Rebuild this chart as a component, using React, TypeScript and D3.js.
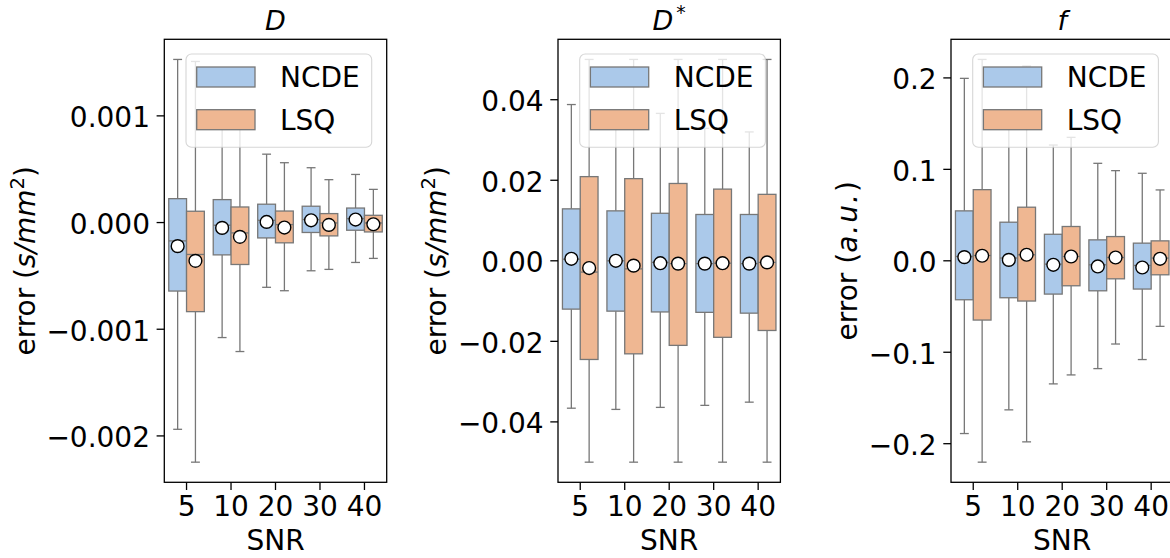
import React from 'react';
import * as d3 from 'd3';

// ---------- data ----------
const snr = ['5', '10', '20', '30', '40'];
const seriesNames = ['NCDE', 'LSQ'];
const seriesFills = ['#abc9ea', '#efb792'];

// Panel D  (s/mm^2)
const dNcdeLo = [-0.001938, -0.001078, -0.000607, -0.000452, -0.000374];
const dNcdeQ1 = [-0.000642, -0.000303, -0.000144, -0.000093, -0.000072];
const dNcdeMed = [-0.000172, -0.000025, 0.000021, 0.000028, 0.000037];
const dNcdeQ3 = [0.000224, 0.000215, 0.000172, 0.000153, 0.000136];
const dNcdeHi = [0.001529, 0.00096, 0.000641, 0.000514, 0.000451];
const dNcdeMean = [-0.000221, -0.00005, 0.000006, 0.000021, 0.000028];
const dLsqLo = [-0.002246, -0.001209, -0.000639, -0.000439, -0.000336];
const dLsqQ1 = [-0.000835, -0.000393, -0.00019, -0.000125, -0.000088];
const dLsqMed = [-0.000299, -0.000097, -0.000019, -0.000004, -0.000004];
const dLsqQ3 = [0.000106, 0.000146, 0.000108, 0.000084, 0.000068];
const dLsqHi = [0.00151, 0.00094, 0.000561, 0.000402, 0.000311];
const dLsqMean = [-0.000359, -0.000134, -0.000047, -0.000022, -0.000016];
const dTicks = [-0.002, -0.001, 0, 0.001];

// Panel D*  (s/mm^2)
const dsNcdeLo = [-0.0366, -0.0369, -0.0364, -0.0359, -0.0351];
const dsNcdeQ1 = [-0.012, -0.0125, -0.0127, -0.0128, -0.013];
const dsNcdeMed = [0.0004, 0.0, -0.0004, -0.0007, -0.0007];
const dsNcdeQ3 = [0.0129, 0.0124, 0.0118, 0.0115, 0.0115];
const dsNcdeHi = [0.0388, 0.0374, 0.0366, 0.0329, 0.032];
const dsNcdeMean = [0.0005, 0.0, -0.0006, -0.0007, -0.0007];
const dsLsqLo = [-0.05, -0.05, -0.05, -0.05, -0.05];
const dsLsqQ1 = [-0.0245, -0.0231, -0.021, -0.019, -0.0173];
const dsLsqMed = [-0.0028, -0.002, -0.0007, -0.0006, -0.0004];
const dsLsqQ3 = [0.0209, 0.0204, 0.0192, 0.0178, 0.0165];
const dsLsqHi = [0.05, 0.05, 0.05, 0.05, 0.05];
const dsLsqMean = [-0.0018, -0.0012, -0.0007, -0.0006, -0.0004];
const dsTicks = [-0.04, -0.02, 0, 0.02, 0.04];

// Panel f  (a.u.)
const fNcdeLo = [-0.1889, -0.163, -0.1346, -0.1179, -0.108];
const fNcdeQ1 = [-0.0426, -0.0404, -0.0364, -0.0328, -0.0309];
const fNcdeMed = [0.0047, 0.003, -0.0036, -0.0044, -0.0051];
const fNcdeQ3 = [0.0546, 0.0422, 0.029, 0.0229, 0.0193];
const fNcdeHi = [0.1995, 0.165, 0.1266, 0.1066, 0.0957];
const fNcdeMean = [0.004, 0.001, -0.0044, -0.0062, -0.0073];
const fLsqLo = [-0.2202, -0.198, -0.1248, -0.091, -0.0717];
const fLsqQ1 = [-0.0648, -0.044, -0.0273, -0.0197, -0.0153];
const fLsqMed = [0.0058, 0.0066, 0.0047, 0.0036, 0.003];
const fLsqQ3 = [0.0778, 0.0586, 0.0375, 0.0265, 0.0218];
const fLsqHi = [0.2202, 0.2129, 0.135, 0.0986, 0.0775];
const fLsqMean = [0.0055, 0.0066, 0.0047, 0.0036, 0.0022];
const fTicks = [-0.2, -0.1, 0, 0.1, 0.2];

// ---------- layout ----------
const W = 1170;
const H = 558;
const FONT = "'DejaVu Sans', 'Liberation Sans', sans-serif";
const FS = 28;
const TITLE_FS = 27;
const GRAY = '#777777';
const panelLefts = [164.3, 558, 951];
const panelTop = 39.3;
const panelW = 222.4;
const panelH = 443;

type Stats = { lo: number[]; q1: number[]; med: number[]; q3: number[]; hi: number[]; mean: number[] };
const mk = (lo: number[], q1: number[], med: number[], q3: number[], hi: number[], mean: number[]): Stats => ({ lo, q1, med, q3, hi, mean });

const panels = [
  {
    title: 'D', sup: '', ticks: dTicks, decimals: 3, unit: 'smm',
    series: [mk(dNcdeLo, dNcdeQ1, dNcdeMed, dNcdeQ3, dNcdeHi, dNcdeMean), mk(dLsqLo, dLsqQ1, dLsqMed, dLsqQ3, dLsqHi, dLsqMean)],
  },
  {
    title: 'D', sup: '*', ticks: dsTicks, decimals: 2, unit: 'smm',
    series: [mk(dsNcdeLo, dsNcdeQ1, dsNcdeMed, dsNcdeQ3, dsNcdeHi, dsNcdeMean), mk(dsLsqLo, dsLsqQ1, dsLsqMed, dsLsqQ3, dsLsqHi, dsLsqMean)],
  },
  {
    title: 'f', sup: '', ticks: fTicks, decimals: 1, unit: 'au',
    series: [mk(fNcdeLo, fNcdeQ1, fNcdeMed, fNcdeQ3, fNcdeHi, fNcdeMean), mk(fLsqLo, fLsqQ1, fLsqMed, fLsqQ3, fLsqHi, fLsqMean)],
  },
];

let ctx: CanvasRenderingContext2D | null = null;
function measure(t: string, size: number): number {
  if (!ctx) ctx = document.createElement('canvas').getContext('2d');
  if (!ctx) return t.length * size * 0.6;
  ctx.font = `${size}px 'DejaVu Sans'`;
  return ctx.measureText(t).width;
}

function Panel({ p, left }: { p: typeof panels[number]; left: number }) {
  const top = panelTop;
  const bottom = panelTop + panelH;
  const right = left + panelW;
  const all = p.series.flatMap((s) => [...s.lo, ...s.hi]);
  const mn = d3.min(all) as number;
  const mx = d3.max(all) as number;
  const pad = (mx - mn) * 0.05;
  const y = d3.scaleLinear().domain([mn - pad, mx + pad]).range([bottom, top]);
  const x = d3.scaleBand<string>().domain(snr).range([left, right]);
  const bw = x.bandwidth();
  const inner = d3.scaleBand<string>().domain(seriesNames).range([0, bw * 0.8]);
  const boxW = inner.bandwidth();
  const fmt = d3.format(`.${p.decimals}f`);
  const tickLabels = p.ticks.map((t) => fmt(t));
  const maxW = d3.max(tickLabels, (t) => measure(t, FS)) as number;
  const ylabX = left - 14.3 - maxW - 11.4;
  const ylabY = (top + bottom) / 2;
  const cx = (left + right) / 2;

  // legend geometry
  const lgL = left + 21.7;
  const lgR = right - 15;
  const lgT = top + 14.7;
  const lgB = top + 108;

  return (
    <g>
      {/* boxes */}
      {p.series.map((s, si) => (
        <g key={si}>
          {snr.map((c, i) => {
            const x0 = (x(c) as number) + bw * 0.1 + (inner(seriesNames[si]) as number);
            const xm = x0 + boxW / 2;
            const capW = boxW / 2;
            return (
              <g key={c}>
                <line x1={xm} x2={xm} y1={y(s.q3[i])} y2={y(s.hi[i])} stroke={GRAY} strokeWidth={1.3} />
                <line x1={xm} x2={xm} y1={y(s.q1[i])} y2={y(s.lo[i])} stroke={GRAY} strokeWidth={1.3} />
                <line x1={xm - capW / 2} x2={xm + capW / 2} y1={y(s.hi[i])} y2={y(s.hi[i])} stroke={GRAY} strokeWidth={1.3} />
                <line x1={xm - capW / 2} x2={xm + capW / 2} y1={y(s.lo[i])} y2={y(s.lo[i])} stroke={GRAY} strokeWidth={1.3} />
                <rect x={x0} width={boxW} y={y(s.q3[i])} height={y(s.q1[i]) - y(s.q3[i])} fill={seriesFills[si]} stroke={GRAY} strokeWidth={1.3} />
                <line x1={x0} x2={x0 + boxW} y1={y(s.med[i])} y2={y(s.med[i])} stroke={GRAY} strokeWidth={1.3} />
              </g>
            );
          })}
        </g>
      ))}
      {p.series.map((s, si) =>
        snr.map((c, i) => {
          const x0 = (x(c) as number) + bw * 0.1 + (inner(seriesNames[si]) as number);
          return <circle key={`${si}-${c}`} cx={x0 + boxW / 2} cy={y(s.mean[i])} r={6.4} fill="#ffffff" stroke="#000" strokeWidth={1.4} />;
        })
      )}
      {/* legend */}
      <rect x={lgL} y={lgT} width={lgR - lgL} height={lgB - lgT} rx={5.6} ry={5.6} fill="rgba(255,255,255,0.8)" stroke="rgba(204,204,204,0.8)" strokeWidth={1.1} />
      {seriesNames.map((n, si) => {
        const cy = lgT + 23 + si * 42.7;
        return (
          <g key={n}>
            <rect x={lgL + 10.7} y={cy - 10} width={58.3} height={20} fill={seriesFills[si]} stroke={GRAY} strokeWidth={1.3} />
            <text x={lgL + 94} y={cy + 9.9} fontSize={FS} fontFamily={FONT} fill="#000">{n}</text>
          </g>
        );
      })}
      {/* spines */}
      <rect x={left} y={top} width={panelW} height={panelH} fill="none" stroke="#000" strokeWidth={1.3} />
      {/* y ticks */}
      {p.ticks.map((t, i) => (
        <g key={t}>
          <line x1={left - 7.7} x2={left} y1={y(t)} y2={y(t)} stroke="#000" strokeWidth={1.3} />
          <text x={left - 14.3} y={y(t) + 11.4} textAnchor="end" fontSize={FS} fontFamily={FONT} fill="#000">{tickLabels[i]}</text>
        </g>
      ))}
      {/* x ticks */}
      {snr.map((c) => {
        const xc = (x(c) as number) + bw / 2;
        return (
          <g key={c}>
            <line x1={xc} x2={xc} y1={bottom} y2={bottom + 7.7} stroke="#000" strokeWidth={1.3} />
            <text x={xc} y={bottom + 33.7} textAnchor="middle" fontSize={FS} fontFamily={FONT} fill="#000">{c}</text>
          </g>
        );
      })}
      <text x={cx} y={bottom + 67.7} textAnchor="middle" fontSize={FS} fontFamily={FONT} fill="#000">SNR</text>
      {/* title */}
      <text x={cx} y={top - 9.3} textAnchor="middle" fontSize={TITLE_FS} fontFamily={FONT} fill="#000">
        <tspan fontStyle="italic">{p.title}</tspan>
        {p.sup ? <tspan dx={3} dy={-11} fontSize={TITLE_FS * 0.7}>{p.sup}</tspan> : null}
      </text>
      {/* y label */}
      <text transform={`translate(${ylabX},${ylabY}) rotate(-90)`} textAnchor="middle" fontSize={FS} fontFamily={FONT} fill="#000">
        {p.unit === 'smm' ? (
          <>
            <tspan>error (</tspan>
            <tspan fontStyle="italic">s/mm</tspan>
            <tspan dy={-11} fontSize={FS * 0.7}>2</tspan>
            <tspan dy={11}>)</tspan>
          </>
        ) : (
          <>
            <tspan>error (</tspan>
            <tspan fontStyle="italic" letterSpacing={2}>a.u.</tspan>
            <tspan>)</tspan>
          </>
        )}
      </text>
    </g>
  );
}

export default function App() {
  return (
    <svg width={W} height={H} viewBox={`0 0 ${W} ${H}`} style={{ position: 'absolute', left: 0, top: 0, background: '#fff' }}>
      <rect x={0} y={0} width={W} height={H} fill="#fff" />
      {panels.map((p, i) => (
        <Panel key={i} p={p} left={panelLefts[i]} />
      ))}
    </svg>
  );
}
